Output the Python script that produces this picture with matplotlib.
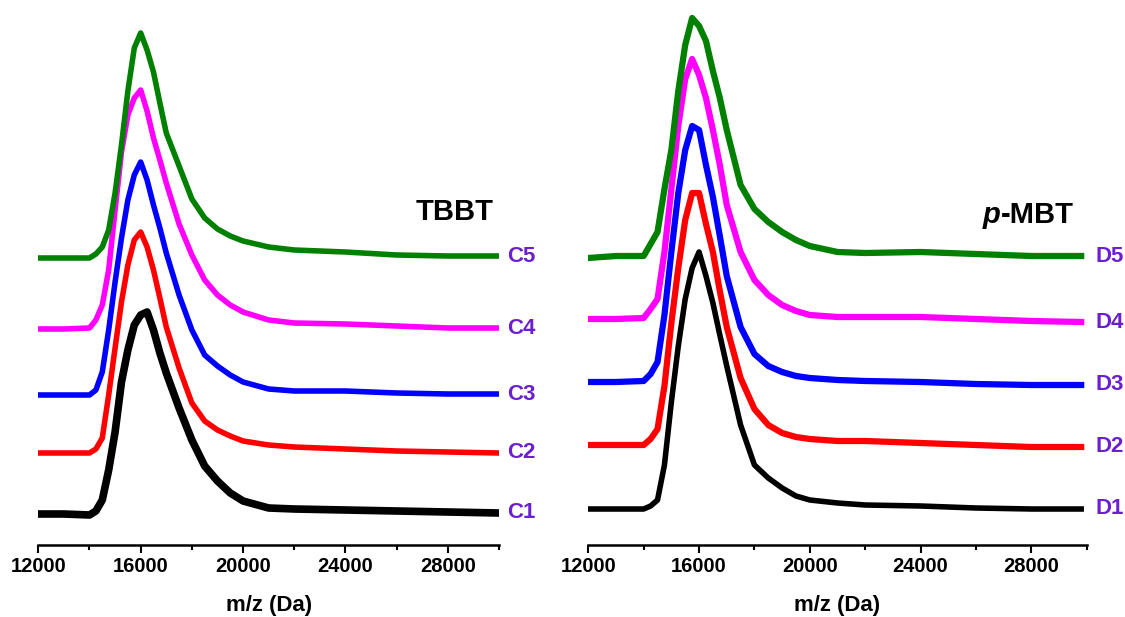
import matplotlib
matplotlib.use("Agg")
import matplotlib.pyplot as plt
from matplotlib.ticker import MultipleLocator

plt.rcParams['font.family'] = ['Liberation Sans', 'DejaVu Sans']

# m/z grids (Da)
mz_c = [12000, 13000, 14000, 14250, 14500, 14750, 15000, 15250, 15500, 15750, 16000, 16250, 16500,
        16750, 17000, 17500, 18000, 18500, 19000, 19500, 20000, 21000, 22000, 24000, 26000, 28000, 30000]
mz_d = [12000, 13000, 14000, 14250, 14500, 14750, 15000, 15250, 15500, 15750, 16000, 16250, 16500,
        16750, 17000, 17500, 18000, 18500, 19000, 19500, 20000, 21000, 22000, 24000, 26000, 28000, 29800]

# TBBT panel intensities (a.u.)
c1 = [0, 0, -1, 3, 14, 44, 82, 132, 164, 189, 199, 202, 184, 161, 141, 106, 74, 48, 33, 21, 13, 6, 5, 4, 3, 2, 1]
c2 = [0, 0, 0, 4, 15, 58, 105, 151, 188, 213, 221, 206, 183, 155, 126, 85, 50, 32, 23, 17, 12, 8, 6, 4, 2, 1, 0]
c3 = [0, 0, 0, 5, 23, 65, 113, 157, 195, 220, 233, 215, 190, 167, 142, 100, 65, 40, 29, 20, 13, 6, 4, 4, 2, 1, 1]
c4 = [0, 0, 1, 9, 24, 59, 119, 177, 214, 231, 239, 218, 191, 169, 146, 105, 74, 49, 34, 24, 17, 9, 6, 5, 3, 1, 1]
c5 = [0, 0, 0, 4, 11, 28, 65, 113, 167, 210, 225, 208, 186, 155, 125, 92, 59, 40, 29, 22, 17, 11, 8, 6, 3, 2, 2]
c_offsets = [31, 92, 150, 216, 287]
c_labels = ['C1', 'C2', 'C3', 'C4', 'C5']

# p-MBT panel intensities (a.u.)
d1 = [0, 0, 0, 3, 9, 44, 107, 163, 210, 241, 257, 233, 206, 174, 143, 84, 44, 31, 21, 13, 9, 6, 4, 3, 1, 0, 0]
d2 = [0, 0, 0, 6, 16, 59, 122, 177, 225, 252, 252, 221, 193, 154, 118, 67, 36, 20, 12, 8, 6, 4, 4, 2, 0, -2, -2]
d3 = [0, 0, 1, 8, 20, 67, 130, 189, 232, 256, 252, 217, 185, 146, 106, 55, 28, 16, 10, 6, 4, 2, 1, 0, -2, -3, -3]
d4 = [0, 0, 1, 10, 20, 67, 130, 193, 240, 260, 244, 221, 189, 154, 114, 67, 39, 24, 14, 8, 4, 2, 2, 2, 0, -2, -3]
d5 = [0, 2, 2, 14, 26, 69, 108, 167, 213, 240, 232, 217, 187, 160, 128, 73, 49, 36, 26, 18, 12, 6, 5, 6, 4, 2, 2]
d_offsets = [36, 100, 163, 226, 287]
d_labels = ['D1', 'D2', 'D3', 'D4', 'D5']

colors = ['#000000', '#FF0000', '#0000FF', '#FF00FF', '#008000']
label_color = '#6A1FD0'

fig = plt.figure(figsize=(11.25, 6.17), dpi=100)
W, H = 1125, 617
ax_c = fig.add_axes([38.3 / W, 72 / H, (499.0 - 38.3) / W, 540 / H])
ax_d = fig.add_axes([588.3 / W, 72 / H, (1086.7 - 588.3) / W, 540 / H])


def draw(ax, mz, series, offsets, labels, widths):
    for s, off, lab, col, lw in zip(series, offsets, labels, colors, widths):
        y = [v + off for v in s]
        ax.plot(mz, y, color=col, lw=lw, solid_joinstyle='round', zorder=2)
        ax.annotate(lab, xy=(30000, y[-1]), xycoords='data', xytext=(6, 0),
                    textcoords='offset points', ha='left', va='center',
                    fontsize=16, fontweight='bold', color=label_color,
                    annotation_clip=False)
    ax.set_xlim(12000, 30000)
    ax.set_ylim(0, 540)
    for sp in ['top', 'left', 'right']:
        ax.spines[sp].set_visible(False)
    ax.spines['bottom'].set_linewidth(1.8)
    ax.set_yticks([])
    ax.xaxis.set_major_locator(MultipleLocator(4000))
    ax.xaxis.set_minor_locator(MultipleLocator(2000))
    ax.tick_params(axis='x', which='major', length=6, width=1.5, pad=3,
                   labelsize=14.5, direction='out')
    ax.tick_params(axis='x', which='minor', length=3.5, width=1.5, direction='out')
    for t in ax.get_xticklabels():
        t.set_fontweight('bold')
    ax.set_xlabel('m/z (Da)', fontsize=16, fontweight='bold', labelpad=13)
    ax.patch.set_alpha(0)


draw(ax_c, mz_c, [c1, c2, c3, c4, c5], c_offsets, c_labels, [5.5, 4.0, 4.0, 4.0, 4.0])
draw(ax_d, mz_d, [d1, d2, d3, d4, d5], d_offsets, d_labels, [4.0, 4.5, 4.5, 4.5, 4.5])

fig.text(455 / W, 1 - 212 / H, 'TBBT', ha='center', va='center', fontsize=21, fontweight='bold')
tp = fig.text(983 / W, 1 - 223 / H, 'p', ha='left', va='baseline', fontsize=21,
              fontweight='bold', fontstyle='italic')
ax_d.annotate('-MBT', xy=(1, 0), xycoords=tp, xytext=(0, 0), textcoords='offset points',
              ha='left', va='bottom', fontsize=21, fontweight='bold', annotation_clip=False)

fig.savefig('out.png', dpi=100)
